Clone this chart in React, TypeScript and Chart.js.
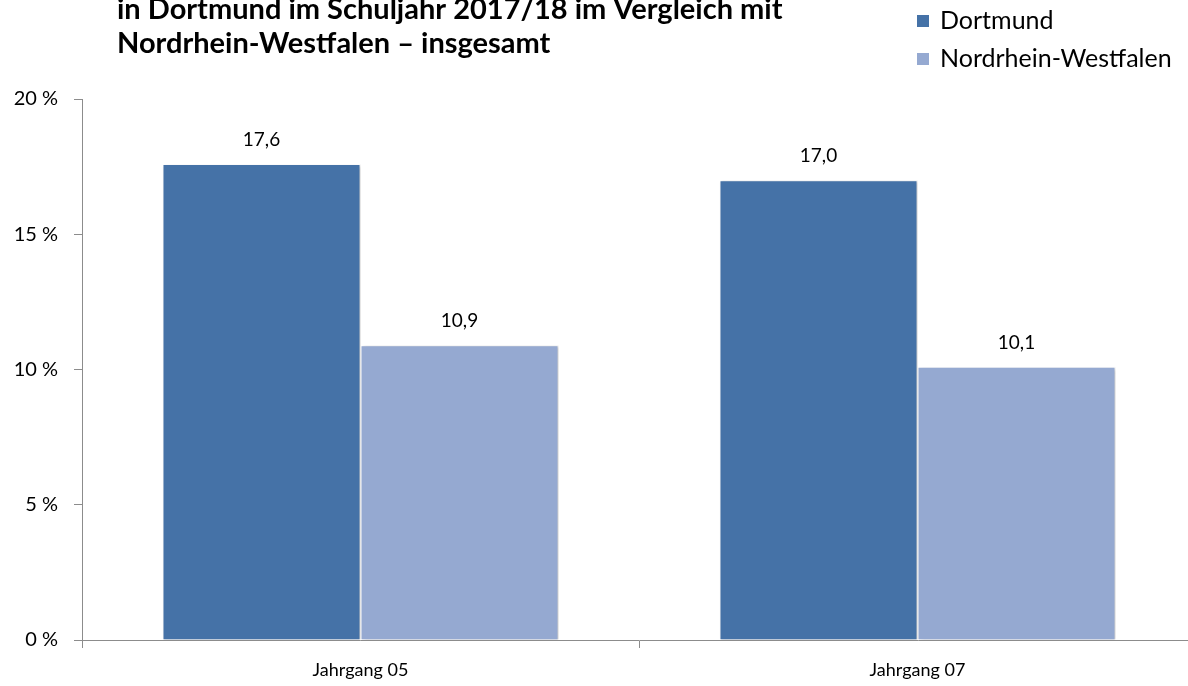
import React, { useEffect, useRef } from "react";
import { Chart, registerables } from "chart.js";

Chart.register(...registerables);

const titleLines = [
  "in Dortmund im Schuljahr 2017/18 im Vergleich mit",
  "Nordrhein-Westfalen – insgesamt",
];
const categories = ["Jahrgang 05", "Jahrgang 07"];
const seriesNames = ["Dortmund", "Nordrhein-Westfalen"];
const dortmundValues = [17.6, 17.0];
const nrwValues = [10.9, 10.1];
const seriesColors = ["#4572A7", "#95A9D1"];
const yMin = 0;
const yMax = 20;
const yStep = 5;

const FONT = "Lato, 'Open Sans', sans-serif";
const AXIS_COLOR = "#8c8c8c";

const fmt = (v: number) => v.toFixed(1).replace(".", ",");

const titlePlugin = {
  id: "titleLines",
  afterDraw(chart: any) {
    const ctx = chart.ctx;
    ctx.save();
    ctx.fillStyle = "#000";
    ctx.font = `bold 29px ${FONT}`;
    ctx.textAlign = "left";
    ctx.textBaseline = "alphabetic";
    titleLines.forEach((line, i) => {
      ctx.fillText(line, 117, 19 + i * 34);
    });
    ctx.restore();
  },
};

const shadowPlugin = {
  id: "barShadow",
  beforeDatasetDraw(chart: any) {
    const ctx = chart.ctx;
    ctx.save();
    ctx.shadowColor = "rgba(0,0,0,0.22)";
    ctx.shadowBlur = 3;
    ctx.shadowOffsetX = 2;
    ctx.shadowOffsetY = 1;
  },
  afterDatasetDraw(chart: any) {
    chart.ctx.restore();
  },
};

const dataLabelPlugin = {
  id: "dataLabels",
  afterDatasetsDraw(chart: any) {
    const ctx = chart.ctx;
    ctx.save();
    ctx.fillStyle = "#000";
    ctx.font = `19px ${FONT}`;
    ctx.textAlign = "center";
    ctx.textBaseline = "middle";
    chart.data.datasets.forEach((ds: any, di: number) => {
      const meta = chart.getDatasetMeta(di);
      meta.data.forEach((el: any, i: number) => {
        ctx.fillText(fmt(ds.data[i]), el.x, el.y - 24);
      });
    });
    ctx.restore();
  },
};

export default function App() {
  const ref = useRef<HTMLCanvasElement | null>(null);

  useEffect(() => {
    if (!ref.current) return;
    const chart = new Chart(ref.current, {
      type: "bar",
      data: {
        labels: categories,
        datasets: [
          {
            label: seriesNames[0],
            data: dortmundValues,
            backgroundColor: seriesColors[0],
            borderColor: "#ffffff",
            borderWidth: 1,
            categoryPercentage: 0.711,
            barPercentage: 1,
          },
          {
            label: seriesNames[1],
            data: nrwValues,
            backgroundColor: seriesColors[1],
            borderColor: "#ffffff",
            borderWidth: 1,
            categoryPercentage: 0.711,
            barPercentage: 1,
          },
        ],
      },
      options: {
        responsive: false,
        animation: false,
        layout: { padding: { top: 99, right: 4, left: 0, bottom: 0 } },
        plugins: {
          legend: { display: false },
          title: { display: false },
          tooltip: { enabled: false },
        },
        scales: {
          x: {
            grid: {
              display: true,
              drawOnChartArea: false,
              drawTicks: true,
              tickLength: 8,
              color: AXIS_COLOR,
              offset: true,
            },
            border: { display: true, color: AXIS_COLOR, width: 1 },
            ticks: {
              color: "#000",
              font: { family: FONT, size: 18 },
              padding: 11,
            },
            afterFit(scale: any) {
              scale.height = 46;
            },
          },
          y: {
            min: yMin,
            max: yMax,
            grid: {
              display: true,
              drawOnChartArea: false,
              drawTicks: true,
              tickLength: 8,
              color: AXIS_COLOR,
            },
            border: { display: true, color: AXIS_COLOR, width: 1 },
            ticks: {
              stepSize: yStep,
              color: "#000",
              font: { family: FONT, size: 20 },
              padding: 16,
              callback: (v: any) => `${v} %`,
            },
            afterFit(scale: any) {
              scale.width = 82;
            },
          },
        },
      },
      plugins: [titlePlugin, shadowPlugin, dataLabelPlugin],
    });
    return () => chart.destroy();
  }, []);

  return (
    <div
      style={{
        position: "fixed",
        left: 0,
        top: 0,
        width: 1188,
        height: 686,
        overflow: "hidden",
        background: "#fff",
      }}
    >
      <canvas ref={ref} width={1200} height={686} style={{ position: "absolute", left: 0, top: 0 }} />
      {seriesNames.map((name, i) => (
        <div
          key={name}
          style={{
            position: "absolute",
            left: 917,
            top: 4 + i * 38,
            height: 30,
            lineHeight: "30px",
            paddingLeft: 23,
            fontFamily: FONT,
            fontSize: 25,
            color: "#000",
            whiteSpace: "nowrap",
          }}
        >
          <span
            style={{
              position: "absolute",
              left: 0,
              top: 11,
              width: 12,
              height: 12,
              background: seriesColors[i],
            }}
          />
          {name}
        </div>
      ))}
    </div>
  );
}
